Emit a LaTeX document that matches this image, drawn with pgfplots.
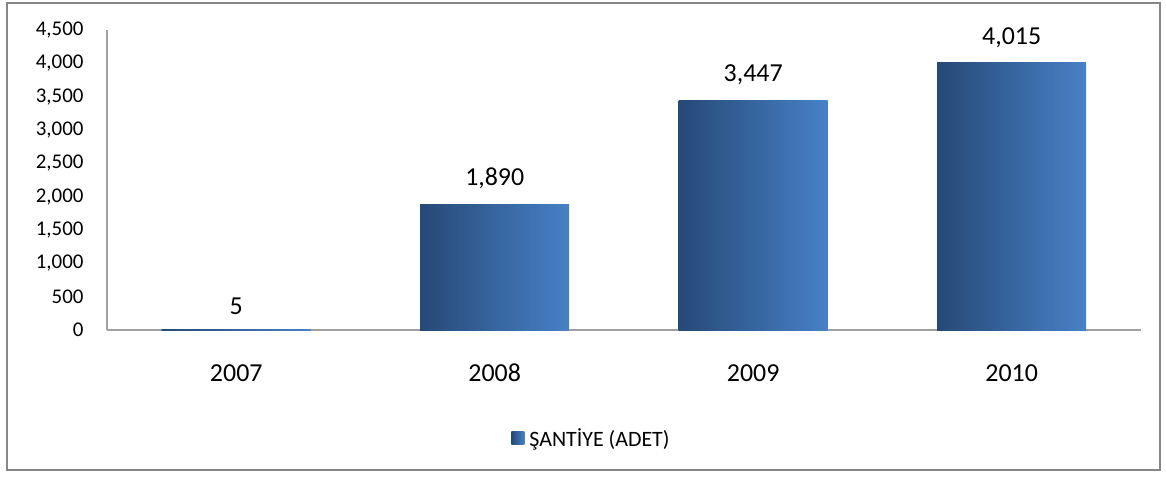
\documentclass[border=0pt]{standalone}
\usepackage{pgfplots}
\pgfplotsset{compat=1.18}
\usepackage{fontspec}
\setmainfont{Carlito}
\definecolor{bardark}{RGB}{38,73,118}
\definecolor{barlight}{RGB}{71,129,199}
\definecolor{spine}{RGB}{160,160,160}
\definecolor{frame}{RGB}{134,134,134}
\begin{document}
\begin{tikzpicture}
\path (-107bp,-149bp) rectangle (1059bp,330bp);
\draw[frame, line width=1.5bp] (-100bp,-140bp) rectangle (1053bp,327bp);
\begin{axis}[
  scale only axis,
  width=1034bp, height=300bp,
  at={(0,0)}, anchor=south west,
  xmin=-0.5, xmax=3.5,
  ymin=0, ymax=4500,
  ytick={0,500,...,4500},
  xtick={0,1,2,3},
  xticklabels={2007,2008,2009,2010},
  axis x line*=bottom, axis y line*=left,
  axis line style={spine, line width=1.5bp, -},
  major tick length=0pt,
  /pgf/number format/assume math mode=true,
  /pgf/number format/1000 sep={,},
  yticklabel style={font=\fontsize{21}{24}\selectfont, text=black, xshift=-20bp},
  xticklabel style={font=\fontsize{26}{30}\selectfont, text=black, yshift=-30.5bp,
    text height=17bp, text depth=0pt},
  ybar, bar width=149bp, bar shift=0pt,
  nodes near coords,
  nodes near coords style={font=\fontsize{26}{30}\selectfont, text=black, yshift=11.5bp,
    /pgf/number format/assume math mode=true, /pgf/number format/1000 sep={,}},
  legend style={at={(0.4686,-0.36)}, anchor=center, draw=none, fill=none,
    font=\fontsize{22}{24}\selectfont, inner sep=0pt,
    /tikz/every odd column/.style={column sep=3bp}},
  legend image code/.code={\shade[left color=bardark, right color=barlight] (0bp,-6.5bp) rectangle (13bp,6.5bp);},
  clip=false,
]
\addplot[draw=none, left color=bardark, right color=barlight] coordinates {(1,1890)};
\addlegendentry{ŞANTİYE (ADET)}
\addplot[draw=none, left color=bardark, right color=barlight, forget plot] coordinates {(0,5)};
\addplot[draw=none, left color=bardark, right color=barlight, forget plot] coordinates {(2,3447)};
\addplot[draw=none, left color=bardark, right color=barlight, forget plot] coordinates {(3,4015)};
\end{axis}
\end{tikzpicture}
\end{document}
